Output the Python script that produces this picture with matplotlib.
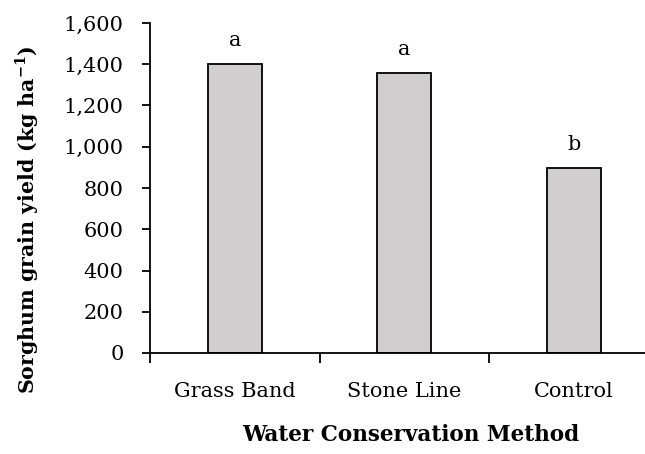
import matplotlib.pyplot as plt

methods = ["Grass Band", "Stone Line", "Control"]
yields = [1400, 1358, 896]
letters = ["a", "a", "b"]

plt.rcParams['font.family'] = ['DejaVu Serif']

fig = plt.figure(figsize=(6.45, 4.54), dpi=100)
ax = fig.add_axes([150 / 645, 101 / 454, 508.5 / 645, 330 / 454])

x = range(len(methods))
ax.bar(x, yields, width=0.32, color="#d0cece", edgecolor="black", linewidth=1.3)

# significance letters above the bars
for i, (v, lab) in enumerate(zip(yields, letters)):
    ax.annotate(lab, (i, v), xytext=(0, 10), textcoords="offset points",
                ha="center", va="bottom", fontsize=15)

ax.set_xlim(-0.5, 2.5)
ax.set_ylim(0, 1600)
ax.set_yticks(range(0, 1601, 200))
ax.set_yticklabels([f"{t:,}" for t in range(0, 1601, 200)], fontsize=15)

# category labels between ticks at boundaries
ax.set_xticks([-0.5, 0.5, 1.5, 2.5])
ax.set_xticklabels([])
ax.set_xticks(list(x), minor=True)
ax.set_xticklabels(methods, minor=True, fontsize=15)
ax.tick_params(axis="x", which="minor", length=0, pad=21)
ax.tick_params(axis="x", which="major", length=7, width=1.3, direction="out")
ax.tick_params(axis="y", length=6, width=1.3, direction="out", pad=13)

for s in ["top", "right"]:
    ax.spines[s].set_visible(False)
ax.spines["left"].set_linewidth(1.3)
ax.spines["bottom"].set_linewidth(1.3)

ax.set_xlabel("Water Conservation Method", fontsize=15.5, fontweight="bold")
ax.xaxis.set_label_coords(0.512, -0.215)
ax.set_ylabel("Sorghum grain yield (kg ha$^{\\mathregular{-1}}$)", fontsize=14.8,
              fontweight="bold")
ax.yaxis.set_label_coords(-0.215, 0.405)

fig.savefig("out.png", dpi=100)
